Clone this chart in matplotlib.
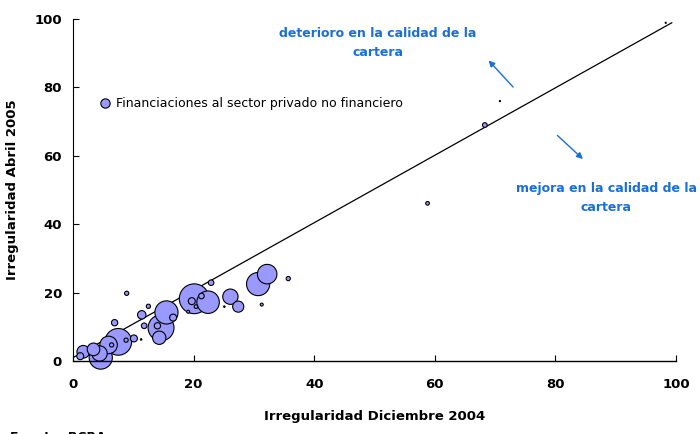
import numpy as np
import matplotlib
matplotlib.use("Agg")
from matplotlib import pyplot as plt

# irregularidad por entidad: diciembre 2004 (x) vs abril 2005 (y)
irreg_dic04 = [32.2, 30.7, 35.7, 26.1, 27.4, 31.3, 22.9, 20.1, 22.4, 21.3,
               19.7, 20.4, 19.1, 25.1, 15.5, 14.6, 14.3, 16.6, 14.0, 12.5,
               11.4, 8.9, 11.8, 11.3, 10.1, 8.8, 7.5, 6.9, 6.4, 5.9,
               4.4, 3.4, 1.7, 1.2, 4.6, 58.8, 68.3, 70.8, 98.3]
irreg_abr05 = [25.4, 22.5, 24.1, 18.8, 15.9, 16.5, 22.9, 18.2, 17.2, 19.0,
               17.5, 15.9, 14.4, 15.9, 14.2, 9.7, 6.8, 12.7, 10.3, 16.0,
               13.5, 19.8, 10.3, 6.3, 6.6, 6.1, 5.6, 11.2, 4.7, 4.7,
               2.2, 3.4, 2.7, 1.4, 1.0, 46.1, 69.0, 76.0, 98.9]
# peso relativo de cada entidad (tamanio de la burbuja)
peso = [8.6, 12.1, 0.4, 5.3, 2.8, 0.2, 0.7, 20.0, 11.4, 0.7,
        1.1, 0.3, 0.2, 0.05, 12.1, 15.1, 4.0, 1.1, 0.9, 0.4,
        1.6, 0.4, 0.7, 0.05, 1.1, 0.4, 16.1, 0.9, 0.4, 6.9,
        5.3, 3.6, 3.6, 1.1, 12.1, 0.3, 0.5, 0.03, 0.03]

linea_x = [0, 99.3]
linea_y = [1, 98.9]

azul = '#1a6fd6'
relleno = '#9999ff'

fig = plt.figure(figsize=(7, 4.34), dpi=100)
ax = fig.add_axes([0.1043, 0.1682, 0.8614, 0.788])

ax.plot(linea_x, linea_y, color='black', linewidth=0.9, zorder=1)

# las burbujas grandes primero, asi las chicas quedan arriba
orden = np.argsort(peso)[::-1]
xs = np.array(irreg_dic04)[orden]
ys = np.array(irreg_abr05)[orden]
tam = np.array(peso)[orden] * 23
ax.scatter(xs, ys, s=tam, c=relleno, edgecolors='black',
           linewidths=0.8, zorder=2, clip_on=False)

ax.set_xlim(0, 100)
ax.set_ylim(0, 100)
ax.set_xticks([0, 20, 40, 60, 80, 100])
ax.set_yticks([0, 20, 40, 60, 80, 100])
for s in ['top', 'right']:
    ax.spines[s].set_visible(False)
ax.spines['left'].set_linewidth(0.8)
ax.spines['bottom'].set_linewidth(1.0)
ax.tick_params(direction='in', length=4, width=0.8, labelsize=9.5, pad=12)
ax.tick_params(axis='y', pad=8)
for lbl in ax.get_xticklabels() + ax.get_yticklabels():
    lbl.set_fontweight('bold')

ax.set_xlabel('Irregularidad Diciembre 2004', fontsize=9.5, fontweight='bold', labelpad=14)
ax.set_ylabel('Irregularidad Abril 2005', fontsize=9.5, fontweight='bold', labelpad=11)

# leyenda hecha a mano
ax.scatter([5.3], [75.4], s=45, c=relleno, edgecolors='black', linewidths=0.8, zorder=3)
ax.text(7.2, 75.4, 'Financiaciones al sector privado no financiero', fontsize=9,
        family=['Liberation Sans Narrow', 'DejaVu Sans'], va='center', ha='left')

# anotaciones
ax.text(50.5, 93.0, 'deterioro en la calidad de la\ncartera', color=azul, fontsize=9,
        fontweight='bold', ha='center', va='center', linespacing=1.6)
ax.text(88.4, 47.8, 'mejora en la calidad de la\ncartera', color=azul, fontsize=9,
        fontweight='bold', ha='center', va='center', linespacing=1.6)
ax.annotate('', xy=(68.6, 88.5), xytext=(73.3, 79.5),
            arrowprops=dict(arrowstyle='-|>', color=azul, lw=1.0, mutation_scale=9))
ax.annotate('', xy=(84.9, 58.5), xytext=(80.0, 66.5),
            arrowprops=dict(arrowstyle='-|>', color=azul, lw=1.0, mutation_scale=9))

# la fuente queda cortada en el borde inferior, como en el original
fig.text(0.014, -0.022, 'Fuente: BCRA', fontsize=9, fontweight='bold', va='bottom')

fig.savefig('out.png', dpi=100)
